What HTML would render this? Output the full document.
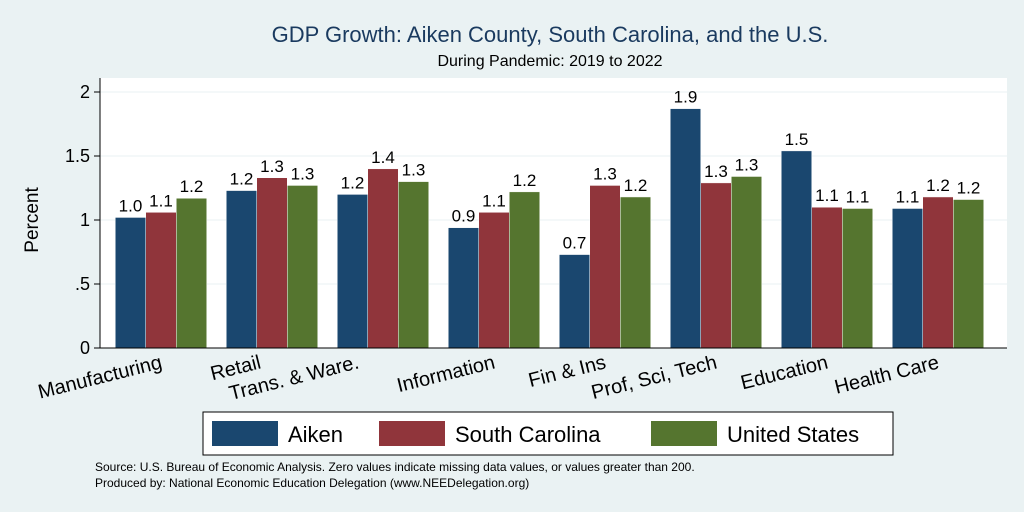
<!DOCTYPE html>
<html><head><meta charset="utf-8"><style>
body{margin:0;background:#eaf2f3;}
svg{display:block;font-family:"Liberation Sans",sans-serif;}
</style></head><body>
<svg id="chart" width="1024" height="512">
<rect x="0" y="0" width="1024" height="512" fill="#eaf2f3"/>
<rect x="100" y="78" width="907" height="270" fill="#ffffff"/>
<text x="550" y="42" text-anchor="middle" font-size="22" fill="#1a3a5f">GDP Growth: Aiken County, South Carolina, and the U.S.</text>
<text x="550" y="66" text-anchor="middle" font-size="16" fill="#000">During Pandemic: 2019 to 2022</text>
<text transform="translate(38,220) rotate(-90)" text-anchor="middle" font-size="19">Percent</text>
<g id="grid"></g><g id="bars"></g><g id="labels"></g>
<line x1="100" y1="348" x2="100" y2="78" stroke="#000" stroke-width="1"/>
<line x1="100" y1="348" x2="1007" y2="348" stroke="#000" stroke-width="1"/>
<g>
<rect x="203" y="412" width="690" height="43" fill="#fff" stroke="#000"/>
<rect x="212" y="421" width="66" height="25" fill="#1a476f"/>
<text x="288" y="442" font-size="22">Aiken</text>
<rect x="379" y="421" width="66" height="25" fill="#90353b"/>
<text x="455" y="442" font-size="22">South Carolina</text>
<rect x="651" y="421" width="66" height="25" fill="#55752f"/>
<text x="727" y="442" font-size="22">United States</text>
</g>
<text x="95" y="471" font-size="12">Source: U.S. Bureau of Economic Analysis. Zero values indicate missing data values, or values greater than 200.</text>
<text x="95" y="487" font-size="12">Produced by: National Economic Education Delegation (www.NEEDelegation.org)</text>
</svg>
<script>
const categories=["Manufacturing","Retail","Trans. & Ware.","Information","Fin & Ins","Prof, Sci, Tech","Education","Health Care"];
const aiken=[1.02,1.23,1.20,0.94,0.73,1.87,1.54,1.09];
const southCarolina=[1.06,1.33,1.40,1.06,1.27,1.29,1.10,1.18];
const unitedStates=[1.17,1.27,1.30,1.22,1.18,1.34,1.09,1.16];
const yTicks=[0,0.5,1,1.5,2];
const yTickLabels=["0",".5","1","1.5","2"];
const NS="http://www.w3.org/2000/svg";
const y=v=>348-v*128;
const gx=i=>161+i*111;
const bw=30.5;
const labelShift=[0,-12,-25,0,0,0,0,0];
const series=[{d:aiken,c:"#1a476f",n:"aiken"},{d:southCarolina,c:"#90353b",n:"south-carolina"},{d:unitedStates,c:"#55752f",n:"united-states"}];
const grid=document.getElementById("grid"),bars=document.getElementById("bars"),labels=document.getElementById("labels");
function mk(tag,attrs,parent,text){const e=document.createElementNS(NS,tag);for(const k in attrs)e.setAttribute(k,attrs[k]);if(text!==undefined)e.textContent=text;parent.appendChild(e);return e;}
yTicks.forEach((t,i)=>{
  if(t>0){const g=mk("line",{x1:100,x2:1007,y1:y(t),y2:y(t),stroke:"#eaf2f3","stroke-width":1},grid);
  
  }
  const tk=mk("line",{x1:94,x2:100,y1:y(t),y2:y(t),stroke:"#000"},grid);
  
  
  const tl=mk("text",{x:90,y:y(t)+6,"text-anchor":"end","font-size":18},grid,yTickLabels[i]);
  
  
});
categories.forEach((c,i)=>{
  series.forEach((s,j)=>{
    const x=gx(i)-1.5*bw+j*bw,v=s.d[i];
    const r=mk("rect",{x:x,y:y(v),width:bw,height:v*128,fill:s.c,stroke:"#fff","stroke-width":0.5},bars);
    
    
    const t=mk("text",{x:x+bw/2,y:y(v)-6,"text-anchor":"middle","font-size":17},labels,v.toFixed(1));
    
    
  });
  const cl=mk("text",{transform:`translate(${gx(i)+2+labelShift[i]},${368}) rotate(-14)`,"text-anchor":"end","font-size":20},labels,c);
  
  
});
</script>
</body></html>
